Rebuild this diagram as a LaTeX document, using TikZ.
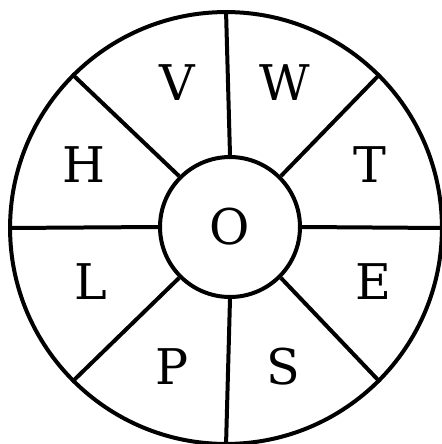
\documentclass[tikz,border=0pt]{standalone}
\usepackage{fontspec}
\setmainfont{DejaVu Serif}
\usepackage{tikz}
\usetikzlibrary{positioning}

\begin{document}
\begin{tikzpicture}[
    x=0.02cm, y=-0.02cm,
    ring/.style={circle, draw, line width=0.08cm, inner sep=0pt},
    letter/.style={font=\fontsize{28}{28}\selectfont},
    spoke/.style={line width=0.08cm}
]
    \useasboundingbox (0,0) rectangle (441,444);

    \node[ring, minimum size=8.64cm] (outer) at (226,228) {};
    \node[ring, minimum size=2.8cm, letter] (O) at (230,227) {O};

    \node[letter] (V) at (177,83) {V};
    \node[letter] (W) at (285,83) {W};
    \node[letter] (T) at (370,165) {T};
    \node[letter] (E) at (373,282) {E};
    \node[letter] (S) at (283,367) {S};
    \node[letter] (P) at (172,367) {P};
    \node[letter] (L) at (91,282) {L};
    \node[letter] (H) at (84,165) {H};

    \foreach \a in {0,45,...,315}
        \draw[spoke] (O.\a) -- (outer.\a);
\end{tikzpicture}
\end{document}
